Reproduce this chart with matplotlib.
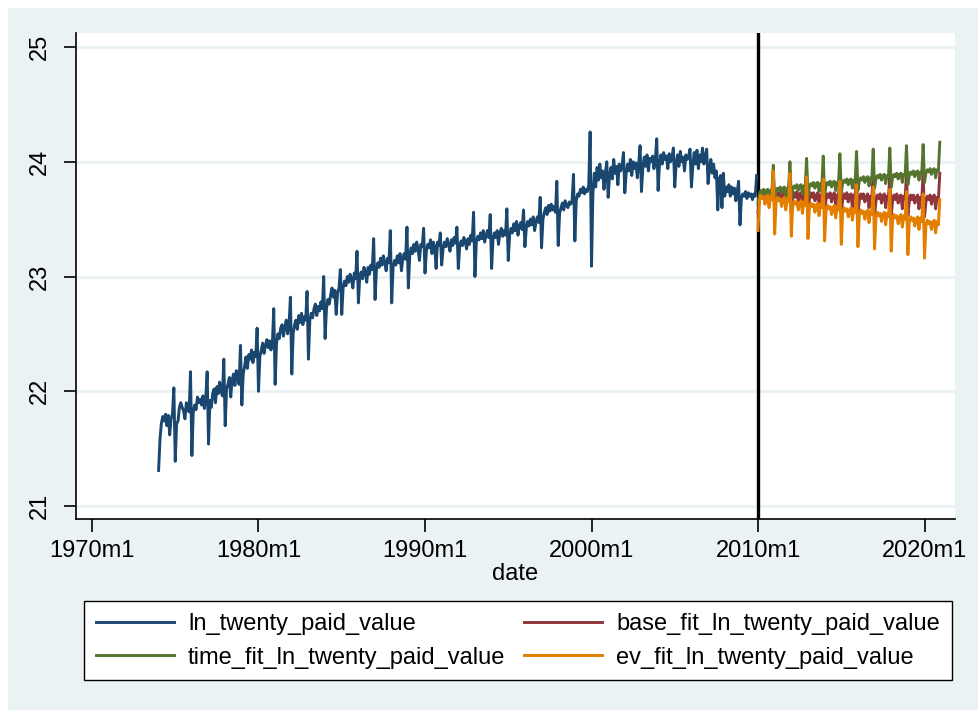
import numpy as np
import matplotlib.pyplot as plt
from matplotlib.patches import Rectangle

plt.rcParams['font.family'] = ['Liberation Sans', 'DejaVu Sans']

# Observed series, one row per year (Jan..Dec), 1974m1 - 2009m12
ln_twenty_paid_value = [
    [21.31, 21.58, 21.72, 21.78, 21.74, 21.80, 21.70, 21.79, 21.62, 21.76, 21.80, 22.03],  # 1974
    [21.39, 21.72, 21.74, 21.86, 21.90, 21.86, 21.83, 21.76, 21.90, 21.85, 21.82, 22.17],
    [21.44, 21.82, 21.88, 21.84, 21.95, 21.90, 21.93, 21.88, 21.96, 21.85, 21.94, 22.17],
    [21.54, 21.92, 21.86, 21.98, 22.02, 21.90, 22.04, 21.98, 22.08, 22.00, 21.96, 22.28],
    [21.70, 22.02, 22.06, 22.12, 21.95, 22.10, 22.15, 22.05, 22.18, 22.10, 22.06, 22.40],
    [21.88, 22.15, 22.22, 22.30, 22.20, 22.32, 22.28, 22.36, 22.25, 22.34, 22.30, 22.55],  # 1979
    [22.00, 22.30, 22.36, 22.42, 22.33, 22.40, 22.45, 22.38, 22.44, 22.36, 22.42, 22.72],
    [22.06, 22.42, 22.50, 22.46, 22.55, 22.58, 22.48, 22.56, 22.62, 22.50, 22.58, 22.82],
    [22.15, 22.50, 22.58, 22.62, 22.54, 22.66, 22.60, 22.68, 22.58, 22.65, 22.62, 22.87],
    [22.28, 22.62, 22.68, 22.64, 22.72, 22.76, 22.66, 22.74, 22.70, 22.78, 22.72, 23.00],
    [22.46, 22.72, 22.80, 22.76, 22.84, 22.90, 22.82, 22.88, 22.67, 22.86, 22.90, 23.06],  # 1984
    [22.67, 22.90, 22.96, 22.92, 23.00, 22.95, 23.02, 22.98, 22.90, 23.03, 22.98, 23.22],
    [22.77, 23.00, 23.04, 22.98, 23.08, 23.04, 22.95, 23.08, 23.02, 23.10, 23.06, 23.33],
    [22.80, 23.06, 23.12, 23.08, 23.16, 23.10, 23.18, 23.12, 23.05, 23.16, 23.12, 23.40],
    [22.77, 23.08, 23.14, 23.10, 23.18, 23.12, 23.20, 23.05, 23.16, 23.20, 23.15, 23.43],
    [22.90, 23.18, 23.25, 23.20, 23.28, 23.22, 23.30, 23.24, 23.14, 23.28, 23.26, 23.42],  # 1989
    [23.03, 23.22, 23.28, 23.25, 23.32, 23.20, 23.30, 23.26, 23.07, 23.30, 23.27, 23.38],
    [23.10, 23.24, 23.30, 23.26, 23.33, 23.28, 23.22, 23.32, 23.27, 23.34, 23.29, 23.43],
    [23.07, 23.26, 23.31, 23.27, 23.34, 23.30, 23.24, 23.33, 23.28, 23.36, 23.31, 23.56],
    [23.00, 23.30, 23.35, 23.32, 23.38, 23.33, 23.40, 23.30, 23.36, 23.40, 23.34, 23.54],
    [23.07, 23.32, 23.38, 23.34, 23.40, 23.28, 23.38, 23.42, 23.35, 23.40, 23.36, 23.59],  # 1994
    [23.14, 23.36, 23.42, 23.38, 23.46, 23.40, 23.48, 23.36, 23.44, 23.47, 23.41, 23.58],
    [23.26, 23.42, 23.48, 23.44, 23.50, 23.45, 23.52, 23.40, 23.48, 23.52, 23.47, 23.69],
    [23.25, 23.50, 23.56, 23.60, 23.54, 23.62, 23.57, 23.63, 23.58, 23.61, 23.56, 23.83],
    [23.27, 23.55, 23.60, 23.64, 23.58, 23.66, 23.62, 23.60, 23.65, 23.63, 23.66, 23.89],
    [23.31, 23.66, 23.72, 23.70, 23.76, 23.73, 23.78, 23.72, 23.76, 23.74, 23.80, 24.26],  # 1999
    [23.09, 23.72, 23.90, 23.78, 23.95, 23.84, 23.98, 23.86, 23.92, 23.76, 23.90, 24.00],
    [23.69, 23.88, 23.95, 23.85, 24.02, 23.90, 23.96, 23.80, 23.98, 23.92, 23.96, 24.08],
    [23.73, 23.90, 23.98, 23.92, 24.02, 23.88, 24.00, 23.94, 23.99, 23.86, 23.98, 24.14],
    [23.74, 23.95, 24.04, 23.96, 24.06, 23.92, 24.03, 24.00, 24.05, 23.94, 24.02, 24.20],
    [23.75, 23.98, 24.06, 23.98, 24.08, 24.02, 24.05, 23.94, 24.07, 24.00, 24.04, 24.12],  # 2004
    [23.78, 23.98, 24.06, 23.96, 24.09, 24.00, 24.04, 23.92, 24.06, 24.02, 24.05, 24.11],
    [23.78, 23.96, 24.08, 23.98, 24.10, 23.94, 24.06, 24.00, 24.12, 23.98, 24.04, 24.11],
    [23.81, 23.94, 24.02, 23.90, 23.98, 23.86, 23.92, 23.58, 23.85, 23.88, 23.60, 23.90],
    [23.70, 23.78, 23.74, 23.80, 23.70, 23.78, 23.72, 23.77, 23.66, 23.74, 23.83, 23.45],
    [23.68, 23.72, 23.70, 23.74, 23.68, 23.73, 23.70, 23.72, 23.67, 23.72, 23.70, 23.88],  # 2009
]

# Fitted series, one row per year (Jan..Dec), 2010m1 - 2020m12
base_fit_ln_twenty_paid_value = [
    [23.56, 23.68, 23.73, 23.70, 23.74, 23.67, 23.72, 23.74, 23.62, 23.72, 23.70, 23.92],
    [23.55, 23.68, 23.73, 23.70, 23.74, 23.66, 23.72, 23.74, 23.62, 23.72, 23.70, 23.92],
    [23.55, 23.68, 23.73, 23.69, 23.74, 23.66, 23.72, 23.73, 23.61, 23.72, 23.70, 23.92],
    [23.55, 23.67, 23.73, 23.69, 23.73, 23.66, 23.71, 23.73, 23.61, 23.71, 23.69, 23.91],
    [23.54, 23.67, 23.72, 23.69, 23.73, 23.65, 23.71, 23.73, 23.61, 23.71, 23.69, 23.91],
    [23.54, 23.67, 23.72, 23.68, 23.73, 23.65, 23.71, 23.72, 23.60, 23.71, 23.69, 23.91],
    [23.54, 23.66, 23.72, 23.68, 23.72, 23.65, 23.70, 23.72, 23.60, 23.70, 23.68, 23.91],
    [23.53, 23.66, 23.71, 23.68, 23.72, 23.64, 23.70, 23.72, 23.60, 23.70, 23.68, 23.90],
    [23.53, 23.66, 23.71, 23.67, 23.72, 23.64, 23.70, 23.71, 23.59, 23.70, 23.68, 23.90],
    [23.53, 23.65, 23.71, 23.67, 23.71, 23.64, 23.69, 23.71, 23.59, 23.69, 23.67, 23.90],
    [23.52, 23.65, 23.70, 23.67, 23.71, 23.63, 23.69, 23.71, 23.59, 23.69, 23.67, 23.90],
]

time_fit_ln_twenty_paid_value = [
    [23.64, 23.72, 23.75, 23.73, 23.76, 23.71, 23.75, 23.76, 23.68, 23.75, 23.74, 23.97],
    [23.66, 23.74, 23.77, 23.75, 23.78, 23.73, 23.77, 23.78, 23.70, 23.77, 23.76, 24.00],
    [23.68, 23.76, 23.79, 23.77, 23.80, 23.75, 23.79, 23.80, 23.72, 23.79, 23.78, 24.03],
    [23.70, 23.78, 23.81, 23.79, 23.82, 23.77, 23.81, 23.82, 23.74, 23.81, 23.80, 24.05],
    [23.71, 23.79, 23.82, 23.80, 23.83, 23.78, 23.82, 23.83, 23.75, 23.82, 23.81, 24.07],
    [23.73, 23.81, 23.84, 23.82, 23.85, 23.80, 23.84, 23.85, 23.77, 23.84, 23.83, 24.09],
    [23.75, 23.83, 23.86, 23.84, 23.87, 23.82, 23.86, 23.87, 23.79, 23.86, 23.85, 24.11],
    [23.77, 23.85, 23.88, 23.86, 23.89, 23.84, 23.88, 23.89, 23.81, 23.88, 23.87, 24.12],
    [23.78, 23.86, 23.89, 23.87, 23.90, 23.85, 23.89, 23.90, 23.82, 23.89, 23.88, 24.14],
    [23.80, 23.88, 23.91, 23.89, 23.92, 23.87, 23.91, 23.92, 23.84, 23.91, 23.90, 24.15],
    [23.82, 23.90, 23.93, 23.91, 23.94, 23.89, 23.93, 23.94, 23.86, 23.93, 23.92, 24.17],
]

ev_fit_ln_twenty_paid_value = [
    [23.40, 23.66, 23.71, 23.68, 23.70, 23.63, 23.69, 23.71, 23.60, 23.70, 23.67, 23.92],
    [23.37, 23.64, 23.69, 23.66, 23.68, 23.61, 23.67, 23.69, 23.58, 23.68, 23.65, 23.90],
    [23.35, 23.61, 23.66, 23.63, 23.65, 23.58, 23.64, 23.66, 23.55, 23.65, 23.62, 23.87],
    [23.33, 23.59, 23.64, 23.61, 23.63, 23.56, 23.62, 23.64, 23.53, 23.63, 23.60, 23.85],
    [23.31, 23.57, 23.62, 23.59, 23.61, 23.54, 23.60, 23.62, 23.51, 23.61, 23.58, 23.83],
    [23.28, 23.55, 23.60, 23.57, 23.59, 23.52, 23.58, 23.60, 23.49, 23.59, 23.56, 23.80],
    [23.26, 23.53, 23.58, 23.55, 23.57, 23.50, 23.56, 23.58, 23.47, 23.57, 23.54, 23.78],
    [23.24, 23.51, 23.56, 23.53, 23.55, 23.48, 23.54, 23.56, 23.45, 23.55, 23.52, 23.76],
    [23.22, 23.49, 23.54, 23.51, 23.53, 23.46, 23.52, 23.54, 23.43, 23.53, 23.50, 23.74],
    [23.19, 23.47, 23.52, 23.49, 23.51, 23.44, 23.50, 23.52, 23.41, 23.51, 23.48, 23.72],
    [23.16, 23.44, 23.49, 23.46, 23.48, 23.41, 23.47, 23.49, 23.38, 23.48, 23.45, 23.67],
]

obs_start = 1974
fit_start = 2010
cutoff = 2010  # 2010m1
x_ticks = [1970, 1980, 1990, 2000, 2010, 2020]
y_ticks = [21, 22, 23, 24, 25]

# Stata s2color
bg = '#EAF2F3'
colors = ['#1a476f', '#90353b', '#55752f', '#e37e00']


def monthly(start_year, rows):
    vals = np.ravel(rows)
    return start_year + np.arange(len(vals)) / 12.0, vals


W, H = 979, 710
fig = plt.figure(figsize=(W / 100, H / 100), dpi=100, facecolor='white')
fig.patches.append(Rectangle((8 / W, 0), 1 - 8 / W, (H - 8) / H, transform=fig.transFigure,
                             facecolor=bg, edgecolor='none', zorder=-5))

ax = fig.add_axes([76 / W, 191 / H, 879 / W, 486 / H])
ax.set_facecolor('white')

ax.axvline(cutoff, color='black', lw=2.4, zorder=1.5)

series = [
    (obs_start, ln_twenty_paid_value, 'ln_twenty_paid_value'),
    (fit_start, base_fit_ln_twenty_paid_value, 'base_fit_ln_twenty_paid_value'),
    (fit_start, time_fit_ln_twenty_paid_value, 'time_fit_ln_twenty_paid_value'),
    (fit_start, ev_fit_ln_twenty_paid_value, 'ev_fit_ln_twenty_paid_value'),
]
handles = []
for (start, rows, name), c in zip(series, colors):
    t, v = monthly(start, rows)
    h, = ax.plot(t, v, color=c, lw=2.1, label=name, zorder=2)
    handles.append(h)

ax.set_xlim(1969.04, 2021.83)
ax.set_ylim(20.887, 25.122)
ax.set_xticks(x_ticks)
ax.set_xticklabels([f'{y}m1' for y in x_ticks])
ax.set_yticks(y_ticks)
ax.set_yticklabels([str(y) for y in y_ticks], rotation=90, va='center')

ax.yaxis.grid(True, color=bg, lw=2.2)
ax.set_axisbelow(True)
for s in ['top', 'right']:
    ax.spines[s].set_visible(False)
for s in ['left', 'bottom']:
    ax.spines[s].set_color('black')
    ax.spines[s].set_linewidth(1.2)
ax.tick_params(axis='both', length=9, width=1.2, labelsize=17, color='black')
ax.tick_params(axis='y', pad=9)
ax.tick_params(axis='x', pad=6)
ax.set_xlabel('date', fontsize=17, labelpad=1)

# legend is filled row by row in Stata: reorder for matplotlib's column filling
order = [0, 2, 1, 3]
leg = fig.legend(handles=[handles[i] for i in order],
                 labels=[series[i][2] for i in order], ncol=2,
                 loc='upper left', bbox_to_anchor=(84 / W, (H - 601) / H),
                 fontsize=17, frameon=True, fancybox=False, edgecolor='black',
                 facecolor='white', framealpha=1,
                 handlelength=3.3, handletextpad=0.6, columnspacing=0.8,
                 borderpad=0.5, labelspacing=0.5, borderaxespad=0)
leg.get_frame().set_linewidth(1.0)

fig.savefig('out.png', dpi=100, facecolor=fig.get_facecolor())
